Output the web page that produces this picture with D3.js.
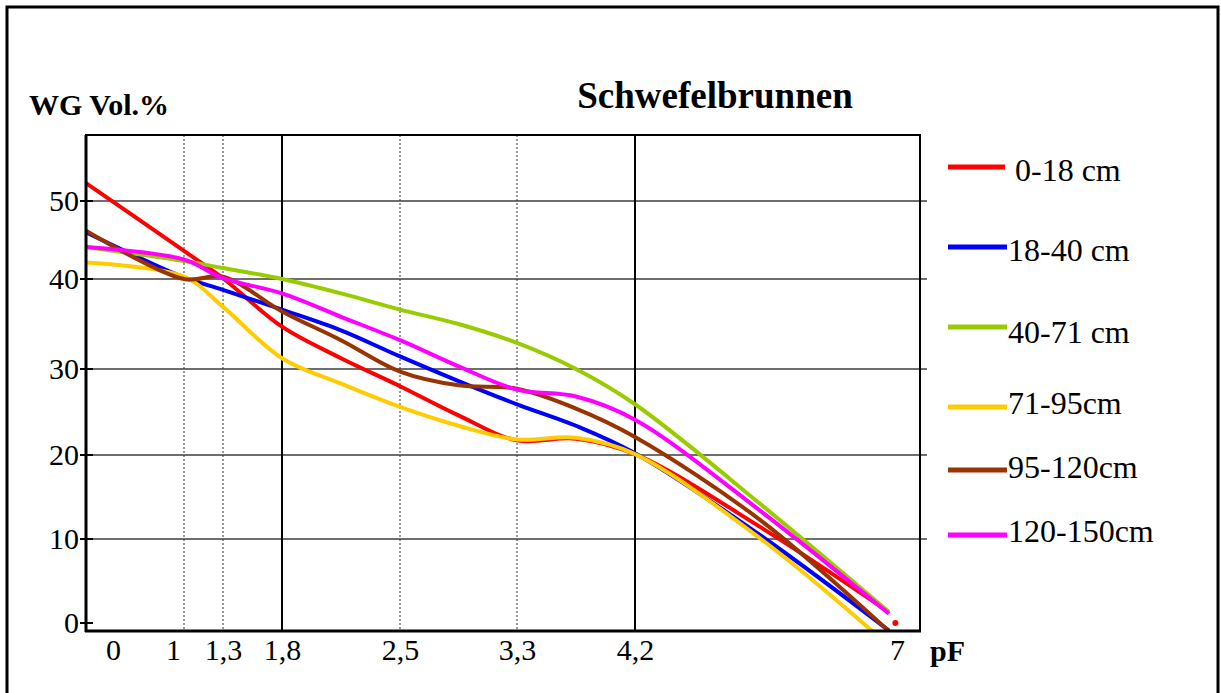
<!DOCTYPE html>
<html>
<head>
<meta charset="utf-8">
<script src="https://cdn.jsdelivr.net/npm/d3@7"></script>
<style>
body { margin: 0; background: #fff; }
svg { display: block; font-family: "Liberation Serif", "Times New Roman", serif; }
</style>
</head>
<body>
<svg width="1221" height="693"></svg>
<script>
// pF values where the curves were read (ticks plus a few in-between points)
var pF = [0, 1, 1.3, 1.8, 2.15, 2.5, 2.9, 3.3, 3.75, 4.2, 5.6, 7];

// water content, Vol.% per depth
var wg0_18    = [52.3, 43.6, 40.1, 34.7, 31.2, 28.0, 24.6, 21.7, 21.9, 20.1, 11.3, 1.3];
var wg18_40   = [46.0, 40.2, 38.8, 36.6, 34.3, 31.4, 28.6, 25.9, 23.4, 20.2, 10.3, -0.9];
var wg40_71   = [44.1, 42.3, 41.4, 40.0, 38.4, 36.6, 35.0, 32.9, 30.0, 25.9, 14.0, 1.3];
var wg71_95   = [42.1, 40.3, 36.9, 31.2, 28.3, 25.6, 23.4, 21.8, 22.0, 20.1, 9.9, -2.7];
var wg95_120  = [46.2, 40.0, 40.3, 36.4, 33.2, 29.7, 28.1, 27.7, 25.4, 22.1, 12.1, -1.0];
var wg120_150 = [44.1, 42.5, 40.1, 38.4, 35.8, 33.2, 30.3, 27.6, 26.8, 24.1, 13.2, 1.1];

var seriesNames = ["0-18 cm", "18-40 cm", "40-71 cm", "71-95cm", "95-120cm", "120-150cm"];
var seriesValues = [wg0_18, wg18_40, wg40_71, wg71_95, wg95_120, wg120_150];
var seriesColors = ["#ff0000", "#0000ff", "#99cc00", "#ffcc00", "#993300", "#ff00ff"];

// lone red point at the end of the 0-18 cm curve
var redDot = [{pF: 7.07, wg: 0}];

var xTicks = [0, 1, 1.3, 1.8, 2.5, 3.3, 4.2, 7];
var xSolid = [1.8, 4.2];
var xDotted = [1, 1.3, 2.5, 3.3];
var yTicks = [0, 10, 20, 30, 40, 50];

var svg = d3.select("svg");

// plot frame
var plotL = 86, plotR = 920, plotT = 135, plotB = 631;

// the pF axis is not linear in the original, each tick has its own place
var x = d3.scaleLinear()
    .domain(xTicks)
    .range([86, 184, 223, 282, 400, 517, 635, 889]);
var y = d3.scaleLinear()
    .domain(yTicks)
    .range([623, 539, 455, 369, 279, 201]);

// outer frame
svg.append("rect")
    .attr("x", 7).attr("y", 7)
    .attr("width", 1211).attr("height", 700)
    .attr("fill", "none").attr("stroke", "#000").attr("stroke-width", 3);

// horizontal grid
svg.append("g").selectAll("line")
    .data(yTicks.filter(function(d) { return d > 0; }))
    .enter().append("line")
    .attr("x1", plotL).attr("x2", plotR + 7)
    .attr("y1", function(d) { return y(d); })
    .attr("y2", function(d) { return y(d); })
    .attr("stroke", "#6e6e6e").attr("stroke-width", 2);

// vertical grid
svg.append("g").selectAll("line")
    .data(xDotted)
    .enter().append("line")
    .attr("x1", function(d) { return x(d); })
    .attr("x2", function(d) { return x(d); })
    .attr("y1", plotT).attr("y2", plotB)
    .attr("stroke", "#333").attr("stroke-width", 1)
    .attr("stroke-dasharray", "2,2");
svg.append("g").selectAll("line")
    .data(xSolid)
    .enter().append("line")
    .attr("x1", function(d) { return x(d); })
    .attr("x2", function(d) { return x(d); })
    .attr("y1", plotT).attr("y2", plotB)
    .attr("stroke", "#000").attr("stroke-width", 2);

// curves
svg.append("clipPath").attr("id", "plotclip")
    .append("rect")
    .attr("x", plotL).attr("y", plotT)
    .attr("width", plotR - plotL).attr("height", plotB - plotT);

var line = d3.line()
    .x(function(d, i) { return x(pF[i]); })
    .y(function(d) { return y(d); })
    .curve(d3.curveCatmullRom.alpha(0.5));

svg.append("g")
    .attr("clip-path", "url(#plotclip)")
    .selectAll("path")
    .data(seriesValues)
    .enter().append("path")
    .attr("d", line)
    .attr("fill", "none")
    .attr("stroke", function(d, i) { return seriesColors[i]; })
    .attr("stroke-width", 4)
    .attr("stroke-linejoin", "round");

svg.append("g").selectAll("circle")
    .data(redDot)
    .enter().append("circle")
    .attr("cx", function(d) { return x(d.pF); })
    .attr("cy", function(d) { return y(d.wg); })
    .attr("r", 3)
    .attr("fill", "#ff0000");

// plot border
svg.append("rect")
    .attr("x", plotL).attr("y", plotT)
    .attr("width", plotR - plotL).attr("height", plotB - plotT)
    .attr("fill", "none").attr("stroke", "#000").attr("stroke-width", 2);
svg.append("line")
    .attr("x1", plotL).attr("x2", plotL).attr("y1", plotT).attr("y2", plotB + 1)
    .attr("stroke", "#000").attr("stroke-width", 3);
svg.append("line")
    .attr("x1", plotL - 1).attr("x2", plotR + 1).attr("y1", plotB).attr("y2", plotB)
    .attr("stroke", "#000").attr("stroke-width", 3);

// y axis ticks + labels
var yAxis = svg.append("g")
    .attr("transform", "translate(" + plotL + ",0)")
    .call(d3.axisLeft(y).tickValues(yTicks).tickSize(0).tickPadding(7));
yAxis.select(".domain").remove();
yAxis.selectAll("text")
    .attr("font-size", 30).attr("fill", "#000")
    .attr("font-family", "Liberation Serif, Times New Roman, serif");
svg.append("g").selectAll("line")
    .data(yTicks)
    .enter().append("line")
    .attr("x1", plotL - 6).attr("x2", plotL + 7)
    .attr("y1", function(d) { return y(d); })
    .attr("y2", function(d) { return y(d); })
    .attr("stroke", "#000").attr("stroke-width", 2);

// x axis labels (the original places "0" and "1" a bit off their lines)
var xLabelShift = {0: 27, 1: -11, 7: 8};
var xAxis = svg.append("g")
    .attr("transform", "translate(0," + plotB + ")")
    .call(d3.axisBottom(x).tickValues(xTicks).tickSize(0).tickPadding(8)
        .tickFormat(function(d) { return String(d).replace(".", ","); }));
xAxis.select(".domain").remove();
xAxis.selectAll("text")
    .attr("font-size", 30).attr("fill", "#000")
    .attr("font-family", "Liberation Serif, Times New Roman, serif")
    .attr("dx", function(d) { return xLabelShift[d] || 0; });

svg.append("text")
    .attr("x", 930).attr("y", 661)
    .attr("font-size", 30).attr("font-weight", "bold")
    .text("pF");

svg.append("text")
    .attr("x", 29).attr("y", 115)
    .attr("font-size", 30).attr("font-weight", "bold")
    .text("WG Vol.%");

svg.append("text")
    .attr("x", 715).attr("y", 108)
    .attr("text-anchor", "middle")
    .attr("font-size", 37).attr("font-weight", "bold")
    .text("Schwefelbrunnen");

// legend
var legendY = [167, 247, 327, 407, 470, 535];
var legendTextDy = [14, 14, 16, 7, 8, 7];
var legend = svg.append("g").selectAll("g")
    .data(seriesNames)
    .enter().append("g");
legend.append("line")
    .attr("x1", 948).attr("x2", function(d, i) { return i === 0 ? 1005 : 1007; })
    .attr("y1", function(d, i) { return legendY[i]; })
    .attr("y2", function(d, i) { return legendY[i]; })
    .attr("stroke", function(d, i) { return seriesColors[i]; })
    .attr("stroke-width", 5);
legend.append("text")
    .attr("x", function(d, i) { return i === 0 ? 1015 : 1008; })
    .attr("y", function(d, i) { return legendY[i] + legendTextDy[i]; })
    .attr("font-size", 32)
    .text(function(d) { return d; });
</script>
</body>
</html>
